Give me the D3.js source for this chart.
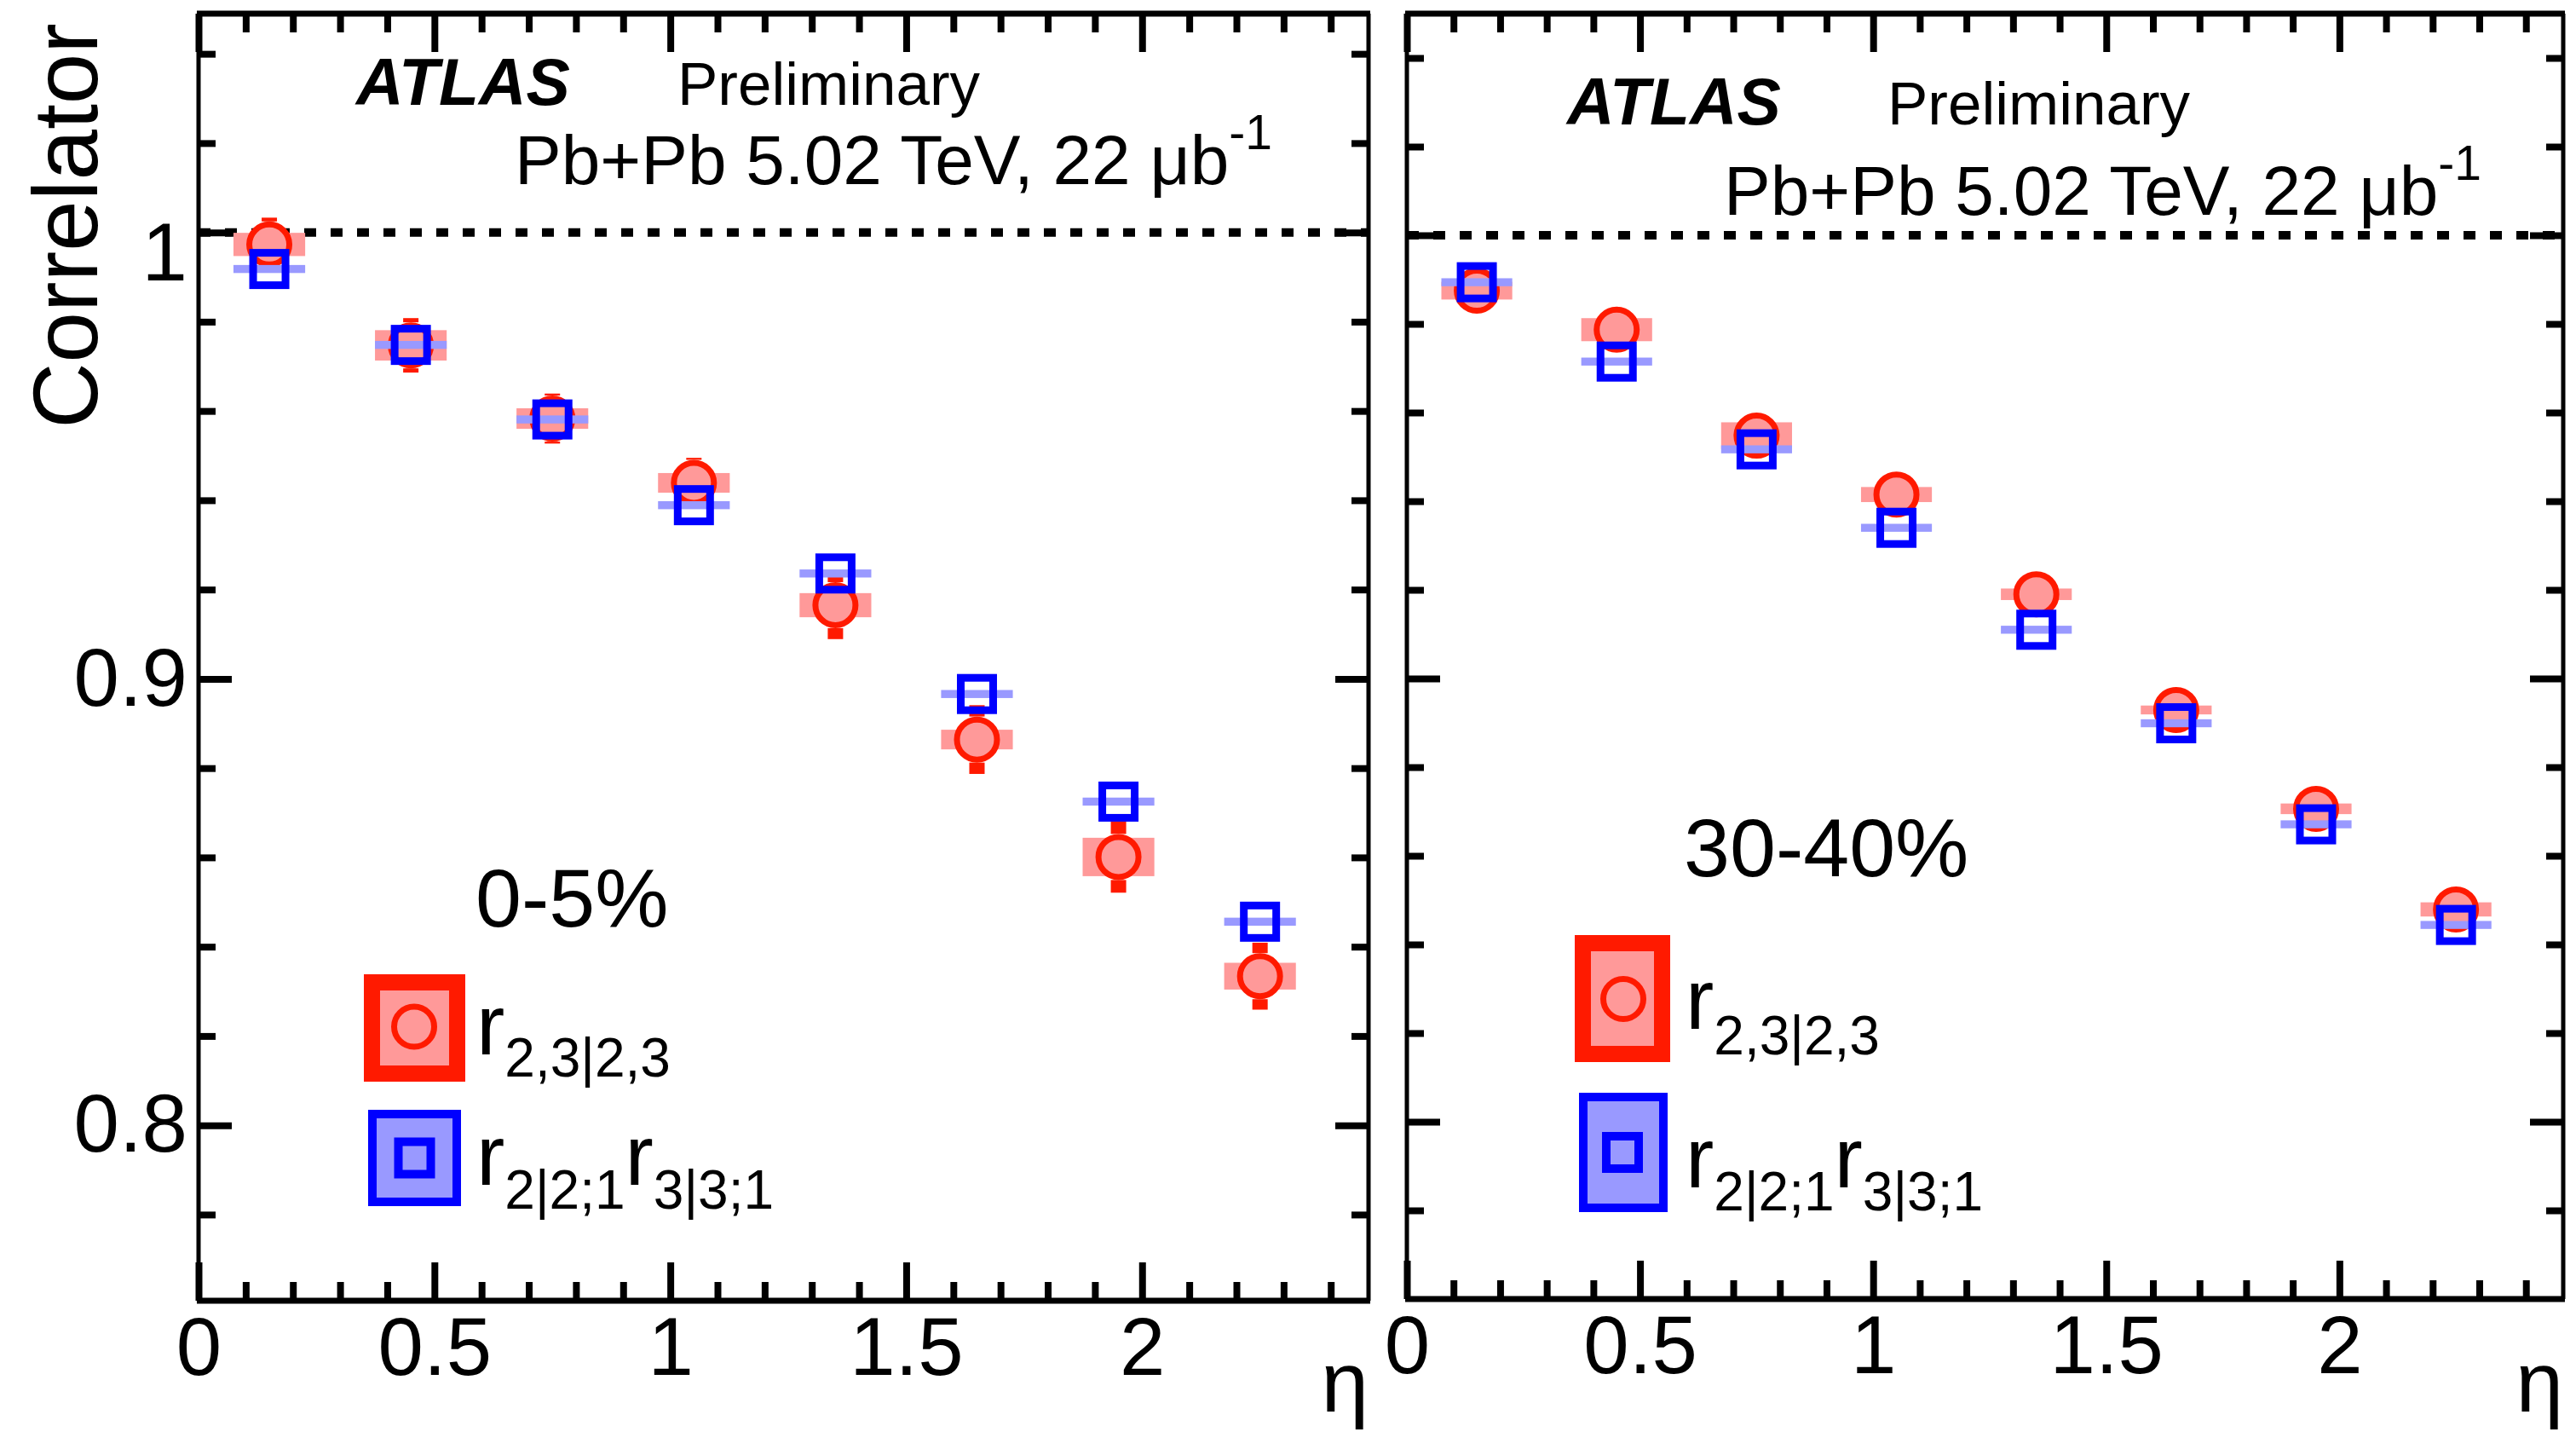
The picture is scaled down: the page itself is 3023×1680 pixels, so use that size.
<!DOCTYPE html>
<html>
<head>
<meta charset="utf-8">
<script src="https://cdn.jsdelivr.net/npm/d3@7"></script>
<style>
  html, body { margin: 0; padding: 0; background: #fff; }
  svg { display: block; }
  text { font-family: "Liberation Sans", Arial, Helvetica, sans-serif; fill: #000; }
</style>
</head>
<body>
<svg id="chart" width="3023" height="1680"></svg>
<script>
// pseudorapidity bin centres
const eta = [0.15, 0.45, 0.75, 1.05, 1.35, 1.65, 1.95, 2.25];

// centrality 0-5%
const r23_c0      = [0.9973, 0.9747, 0.9583, 0.9439, 0.9165, 0.8864, 0.8601, 0.8334];
const r23_c0_stat = [0.0060, 0.0061, 0.0056, 0.0056, 0.0076, 0.0077, 0.0080, 0.0075];
const r23_c0_syst = [0.0026, 0.0034, 0.0023, 0.0022, 0.0027, 0.0022, 0.0043, 0.0030];
const rr_c0       = [0.9918, 0.9748, 0.9581, 0.9389, 0.9236, 0.8966, 0.8725, 0.8456];
const rr_c0_stat  = [0.0030, 0.0030, 0.0030, 0.0030, 0.0035, 0.0035, 0.0040, 0.0040];
const rr_c0_syst  = [0.0009, 0.0009, 0.0009, 0.0009, 0.0009, 0.0009, 0.0009, 0.0009];

// centrality 30-40%
const r23_c30      = [0.9875, 0.9787, 0.9548, 0.9415, 0.9190, 0.8929, 0.8706, 0.8479];
const r23_c30_stat = [0.0020, 0.0020, 0.0020, 0.0020, 0.0020, 0.0020, 0.0020, 0.0020];
const r23_c30_syst = [0.0020, 0.0026, 0.0030, 0.0017, 0.0013, 0.0010, 0.0012, 0.0016];
const rr_c30       = [0.9894, 0.9715, 0.9517, 0.9340, 0.9110, 0.8899, 0.8671, 0.8444];
const rr_c30_stat  = [0.0020, 0.0020, 0.0020, 0.0020, 0.0020, 0.0020, 0.0020, 0.0020];
const rr_c30_syst  = [0.0009, 0.0009, 0.0009, 0.0009, 0.0009, 0.0009, 0.0009, 0.0009];

// axis ticks
const xMajorTicks = [0, 0.5, 1, 1.5, 2];
const xTickLabels = ["0", "0.5", "1", "1.5", "2"];
const yMajorTicks = [0.8, 0.9, 1];
const yTickLabels = ["0.8", "0.9", "1"];

const centralityLabels = ["0-5%", "30-40%"];

const RED = "#ff1a00", PINK = "#ff9999", BLUE = "#0000ff", LAVENDER = "#9999ff";
const SYST_HALF_WIDTH = 0.076;   // half-width of systematic boxes in eta
const CIRCLE_R = 23.5, CIRCLE_SW = 7;
const SQUARE_S = 38, SQUARE_SW = 9;

const svg = d3.select("#chart");

const panels = [
  {
    x0: 233, x1: 1606, yTop: 16, yBot: 1526, yDomain: [0.7607, 1.049], yLabels: true,
    r23: r23_c0, r23Stat: r23_c0_stat, r23Syst: r23_c0_syst,
    rr: rr_c0, rrStat: rr_c0_stat, rrSyst: rr_c0_syst,
    cent: centralityLabels[0], centPos: [558, 1087],
    atlas: [418, 123], prelim: [795, 123], lumi: [604, 216],
    legRed: { x: 436.5, y: 1152.5, w: 100, h: 107, cx: 486, cy: 1204.5 },
    legBlue: { x: 437, y: 1307, w: 99, h: 103, cx: 486.5, cy: 1358.5 },
    legText1: { x: 559, y: 1237, sub: 26 },
    legText2: { x: 559, y: 1390, sub: 28 }
  },
  {
    x0: 1651, x1: 3008, yTop: 16, yBot: 1524, yDomain: [0.76, 1.05], yLabels: false,
    r23: r23_c30, r23Stat: r23_c30_stat, r23Syst: r23_c30_syst,
    rr: rr_c30, rrStat: rr_c30_stat, rrSyst: rr_c30_syst,
    cent: centralityLabels[1], centPos: [1976, 1028],
    atlas: [1839, 146], prelim: [2215, 146], lumi: [2023, 252],
    legRed: { x: 1857.5, y: 1106.5, w: 93, h: 130, cx: 1905, cy: 1172 },
    legBlue: { x: 1858, y: 1287, w: 94, h: 130, cx: 1904, cy: 1352 },
    legText1: { x: 1978, y: 1207, sub: 30 },
    legText2: { x: 1978, y: 1393, sub: 27 }
  }
];

const xMinor = d3.range(0, 25).map(i => i / 10).filter(v => !xMajorTicks.some(m => Math.abs(m - v) < 1e-6));
const yMinor = d3.range(39, 53).map(i => i * 0.02).filter(v => !yMajorTicks.some(m => Math.abs(m - v) < 1e-6));

panels.forEach(p => {
  const x = d3.scaleLinear().domain([0, 2.48]).range([p.x0, p.x1]);
  const y = d3.scaleLinear().domain(p.yDomain).range([p.yBot, p.yTop]);
  const g = svg.append("g");

  // tick marks on all four sides, pointing inward
  function addAxis(axis, transform, width) {
    const a = g.append("g").attr("transform", transform).call(axis);
    a.select(".domain").remove();
    a.selectAll(".tick line").attr("stroke", "#000").attr("stroke-width", width);
    a.selectAll(".tick text").attr("font-size", 96).attr("font-family", "Liberation Sans, Arial, sans-serif").attr("fill", "#000");
    return a;
  }
  const xFmt = d => xTickLabels[xMajorTicks.indexOf(d)];
  addAxis(d3.axisBottom(x).tickValues(xMajorTicks).tickSize(-45).tickPadding(19).tickFormat(xFmt), `translate(0,${p.yBot})`, 8);
  addAxis(d3.axisBottom(x).tickValues(xMinor).tickSize(-22).tickFormat(""), `translate(0,${p.yBot})`, 8);
  addAxis(d3.axisTop(x).tickValues(xMajorTicks).tickSize(-45).tickFormat(""), `translate(0,${p.yTop})`, 8);
  addAxis(d3.axisTop(x).tickValues(xMinor).tickSize(-22).tickFormat(""), `translate(0,${p.yTop})`, 8);

  const yFmt = p.yLabels ? (d => yTickLabels[yMajorTicks.indexOf(d)]) : "";
  const yl = addAxis(d3.axisLeft(y).tickValues(yMajorTicks).tickSize(-39).tickPadding(13).tickFormat(yFmt), `translate(${p.x0},0)`, 8);
  // the top label sits a little below its tick
  yl.selectAll(".tick text").filter(d => d === 1).attr("dy", "0.58em");
  addAxis(d3.axisLeft(y).tickValues(yMinor).tickSize(-20).tickFormat(""), `translate(${p.x0},0)`, 8);
  addAxis(d3.axisRight(y).tickValues(yMajorTicks).tickSize(-39).tickFormat(""), `translate(${p.x1},0)`, 8);
  addAxis(d3.axisRight(y).tickValues(yMinor).tickSize(-20).tickFormat(""), `translate(${p.x1},0)`, 8);

  // frame
  g.append("line").attr("x1", p.x0 - 2).attr("x2", p.x1 + 2).attr("y1", p.yTop).attr("y2", p.yTop).attr("stroke", "#000").attr("stroke-width", 7);
  g.append("line").attr("x1", p.x0 - 2).attr("x2", p.x1 + 2).attr("y1", p.yBot).attr("y2", p.yBot).attr("stroke", "#000").attr("stroke-width", 7);
  g.append("line").attr("x1", p.x0).attr("x2", p.x0).attr("y1", p.yTop).attr("y2", p.yBot).attr("stroke", "#000").attr("stroke-width", 5);
  g.append("line").attr("x1", p.x1).attr("x2", p.x1).attr("y1", p.yTop).attr("y2", p.yBot).attr("stroke", "#000").attr("stroke-width", 5);

  // reference line at unity
  g.append("line").attr("x1", x(0)).attr("x2", x(2.48)).attr("y1", y(1)).attr("y2", y(1))
    .attr("stroke", "#000").attr("stroke-width", 10).attr("stroke-dasharray", "14 17");

  const idx = d3.range(eta.length);

  // error bars are drawn only outside the marker, as two segments
  function errorBars(vals, errs, half, color) {
    const segs = [];
    idx.forEach(i => {
      const c = y(vals[i]), top = y(vals[i] + errs[i]), bot = y(vals[i] - errs[i]);
      if (c - half > top) segs.push({ i, y0: top, y1: c - half });
      if (bot > c + half) segs.push({ i, y0: c + half, y1: bot });
    });
    g.append("g").selectAll("rect").data(segs).join("rect")
      .attr("x", s => x(eta[s.i]) - 9).attr("width", 18)
      .attr("y", s => s.y0).attr("height", s => s.y1 - s.y0)
      .attr("fill", color);
  }
  function systBoxes(vals, systs, color) {
    g.append("g").selectAll("rect").data(idx).join("rect")
      .attr("x", i => x(eta[i] - SYST_HALF_WIDTH)).attr("width", i => x(eta[i] + SYST_HALF_WIDTH) - x(eta[i] - SYST_HALF_WIDTH))
      .attr("y", i => y(vals[i] + systs[i])).attr("height", i => y(vals[i] - systs[i]) - y(vals[i] + systs[i]))
      .attr("fill", color);
  }

  // r_{2,3|2,3}: systematic boxes, statistical errors, open circles
  systBoxes(p.r23, p.r23Syst, PINK);
  errorBars(p.r23, p.r23Stat, CIRCLE_R + CIRCLE_SW / 2, RED);
  g.append("g").selectAll("circle").data(idx).join("circle")
    .attr("cx", i => x(eta[i])).attr("cy", i => y(p.r23[i])).attr("r", CIRCLE_R)
    .attr("fill", PINK).attr("stroke", RED).attr("stroke-width", CIRCLE_SW);

  // r_{2|2;1} r_{3|3;1}: systematic bands, statistical errors, open squares
  systBoxes(p.rr, p.rrSyst, LAVENDER);
  errorBars(p.rr, p.rrStat, SQUARE_S / 2 + SQUARE_SW / 2, BLUE);
  g.append("g").selectAll("rect").data(idx).join("rect")
    .attr("x", i => x(eta[i]) - SQUARE_S / 2).attr("y", i => y(p.rr[i]) - SQUARE_S / 2)
    .attr("width", SQUARE_S).attr("height", SQUARE_S)
    .attr("fill", "none").attr("stroke", BLUE).attr("stroke-width", SQUARE_SW);

  // header text
  g.append("text").attr("x", p.atlas[0]).attr("y", p.atlas[1]).attr("font-size", 77)
    .attr("font-weight", "bold").attr("font-style", "italic").text("ATLAS");
  g.append("text").attr("x", p.prelim[0]).attr("y", p.prelim[1]).attr("font-size", 71).text("Preliminary");
  const lumi = g.append("text").attr("x", p.lumi[0]).attr("y", p.lumi[1]).attr("font-size", 82);
  lumi.append("tspan").text("Pb+Pb 5.02 TeV, 22 \u03bcb");
  lumi.append("tspan").attr("font-size", 57).attr("dy", -41).text("-1");

  g.append("text").attr("x", p.centPos[0]).attr("y", p.centPos[1]).attr("font-size", 97).text(p.cent);

  // legend
  const lr = p.legRed, lb = p.legBlue;
  g.append("rect").attr("x", lr.x).attr("y", lr.y).attr("width", lr.w).attr("height", lr.h)
    .attr("fill", PINK).attr("stroke", RED).attr("stroke-width", 19);
  g.append("circle").attr("cx", lr.cx).attr("cy", lr.cy).attr("r", CIRCLE_R)
    .attr("fill", PINK).attr("stroke", RED).attr("stroke-width", CIRCLE_SW);
  g.append("rect").attr("x", lb.x).attr("y", lb.y).attr("width", lb.w).attr("height", lb.h)
    .attr("fill", LAVENDER).attr("stroke", BLUE).attr("stroke-width", 10);
  g.append("rect").attr("x", lb.cx - SQUARE_S / 2).attr("y", lb.cy - SQUARE_S / 2).attr("width", SQUARE_S).attr("height", SQUARE_S)
    .attr("fill", "none").attr("stroke", BLUE).attr("stroke-width", 10);

  const t1 = g.append("text").attr("x", p.legText1.x).attr("y", p.legText1.y).attr("font-size", 100);
  t1.append("tspan").text("r");
  t1.append("tspan").attr("font-size", 64).attr("dy", p.legText1.sub).text("2,3|2,3");

  const t2 = g.append("text").attr("x", p.legText2.x).attr("y", p.legText2.y).attr("font-size", 100);
  t2.append("tspan").text("r");
  t2.append("tspan").attr("font-size", 64).attr("dy", p.legText2.sub).text("2|2;1");
  t2.append("tspan").attr("dy", -p.legText2.sub).text("r");
  t2.append("tspan").attr("font-size", 64).attr("dy", p.legText2.sub).text("3|3;1");

  // x-axis title
  g.append("text").attr("x", p.x1).attr("y", 1656).attr("text-anchor", "end").attr("font-size", 100).text("\u03b7");
});

// y-axis title
svg.append("text").attr("transform", "translate(114,27) rotate(-90)")
  .attr("text-anchor", "end").attr("font-size", 107).text("Correlator");
</script>
</body>
</html>
